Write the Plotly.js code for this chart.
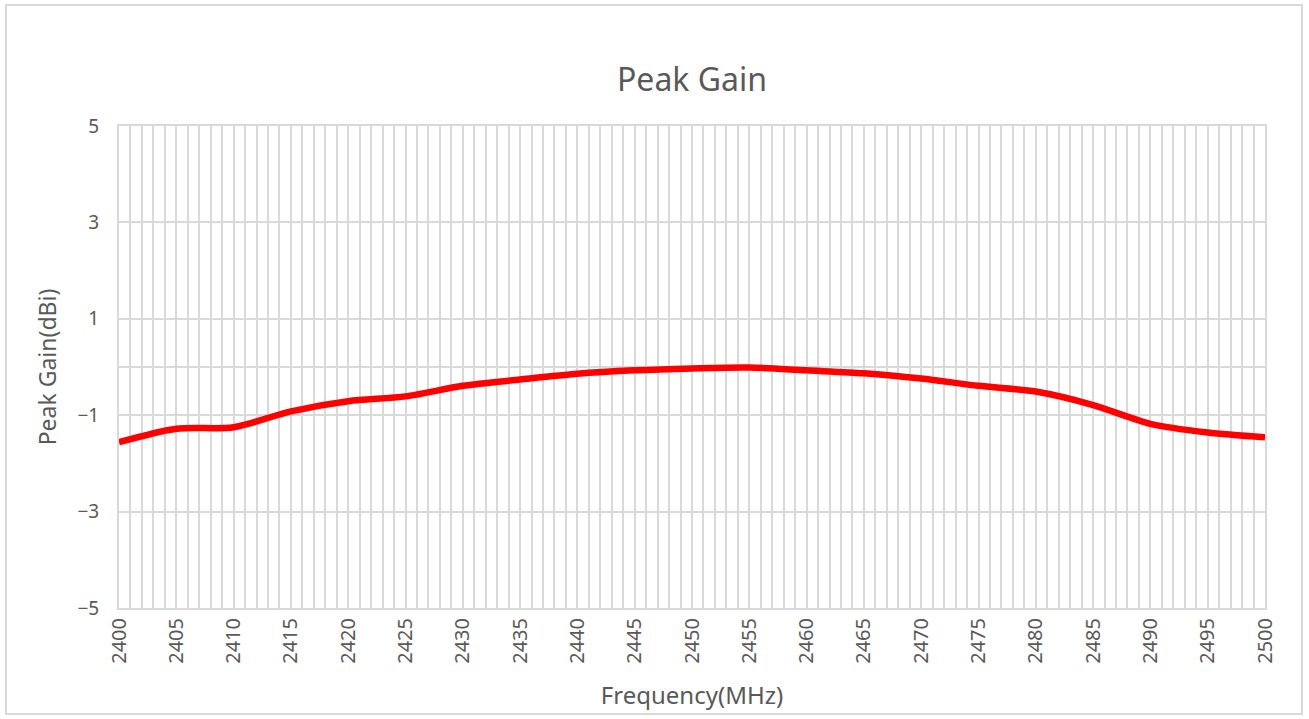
<!DOCTYPE html>
<html>
<head>
<meta charset="utf-8">
<script src="https://cdn.plot.ly/plotly-3.0.1.min.js"></script>
<style>
  html, body { margin: 0; padding: 0; background: #ffffff; }
  #chart { width: 1309px; height: 719px; }
  #frame { position: absolute; left: 5px; top: 4px; width: 1298px; height: 711px; border: 2px solid #d9d9d9; pointer-events: none; box-sizing: border-box; }
</style>
</head>
<body>
<div id="chart"></div>
<div id="frame"></div>
<script>
// Data
const frequency = [2400, 2405, 2410, 2415, 2420, 2425, 2430, 2435, 2440, 2445, 2450,
                   2455, 2460, 2465, 2470, 2475, 2480, 2485, 2490, 2495, 2500];
const peakGain  = [-1.56, -1.28, -1.25, -0.92, -0.71, -0.61, -0.39, -0.26, -0.14, -0.07, -0.03,
                   -0.01, -0.07, -0.13, -0.24, -0.39, -0.51, -0.79, -1.18, -1.36, -1.46];
const yTicks = [-5, -3, -1, 1, 3, 5];

const textColor = '#595959';
const gridColor = '#d9d9d9';
const fontFamily = '"Noto Sans", "DejaVu Sans", sans-serif';

const trace = {
  x: frequency,
  y: peakGain,
  type: 'scatter',
  mode: 'lines',
  line: { color: '#ff0000', width: 6.5, shape: 'spline', smoothing: 0.8 },
  hoverinfo: 'x+y'
};

const layout = {
  width: 1309,
  height: 719,
  paper_bgcolor: '#ffffff',
  plot_bgcolor: '#ffffff',
  margin: { l: 119, r: 44, t: 126, b: 111, pad: 0 },
  showlegend: false,
  font: { family: fontFamily, color: textColor },
  title: {
    text: 'Peak Gain',
    font: { size: 32, color: textColor, family: fontFamily },
    x: 0.5, xref: 'paper', xanchor: 'center',
    y: 1 - 80 / 719, yref: 'container', yanchor: 'middle'
  },
  xaxis: {
    range: [2400, 2500],
    tickmode: 'linear', tick0: 2400, dtick: 5,
    tickangle: -90,
    ticks: '',
    tickfont: { size: 20, color: textColor, family: fontFamily },
    showgrid: true, gridcolor: gridColor, gridwidth: 2,
    minor: { dtick: 1, showgrid: true, gridcolor: gridColor, gridwidth: 2 },
    showline: true, linecolor: gridColor, linewidth: 2, mirror: true,
    zeroline: false,
    title: { text: 'Frequency(MHz)', font: { size: 24, color: textColor, family: fontFamily }, standoff: 24 }
  },
  yaxis: {
    range: [-5, 5],
    tickmode: 'array', tickvals: yTicks, ticktext: yTicks.map(v => v < 0 ? '\u2212' + Math.abs(v) : String(v)),
    ticks: 'outside', ticklen: 14, tickcolor: 'rgba(0,0,0,0)',
    tickfont: { size: 19, color: textColor, family: fontFamily },
    showgrid: true, gridcolor: gridColor, gridwidth: 2,
    zeroline: true, zerolinecolor: gridColor, zerolinewidth: 2,
    showline: true, linecolor: gridColor, linewidth: 2, mirror: true,
    title: { text: 'Peak Gain(dBi)', font: { size: 23, color: textColor, family: fontFamily }, standoff: 14 }
  }
};

Plotly.newPlot('chart', [trace], layout, { displayModeBar: false, staticPlot: false });
</script>
</body>
</html>
